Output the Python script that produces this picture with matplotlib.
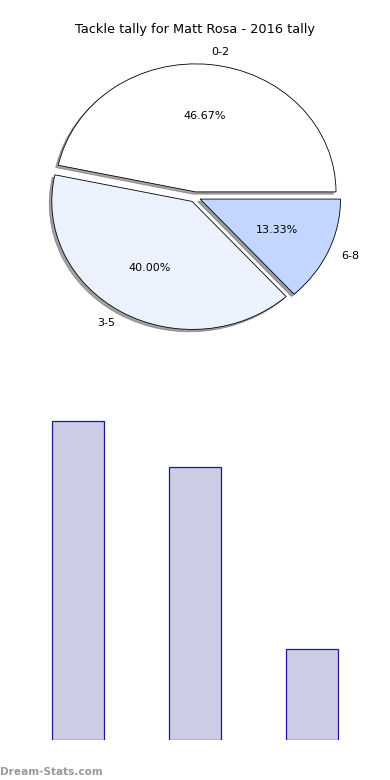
import matplotlib
matplotlib.use("Agg")
import matplotlib.pyplot as plt

# tackle tally buckets and counts
labels = ["0-2", "3-5", "6-8"]
counts = [7, 6, 2]
slice_colors = ["#ffffff", "#ebf2fe", "#c3d6ff"]
title = "Tackle tally for Matt Rosa - 2016 tally"

fig = plt.figure(figsize=(3.9, 7.8), dpi=100)

# pie on top, stretched like the original (not circular)
ax_pie = fig.add_axes([0.05, 0.5423, 0.90, 0.4103])
wedges, texts, autotexts = ax_pie.pie(
    counts, labels=labels, colors=slice_colors, autopct="%.2f%%",
    explode=[0.04] * len(counts), shadow={"ox": -0.013, "oy": -0.013},
    startangle=0,
    wedgeprops=dict(edgecolor="black", linewidth=0.6),
    textprops=dict(fontsize=8),
)
ax_pie.set_aspect("auto")
ax_pie.set_title(title, fontsize=9.3, pad=3)

# bar chart below, no frame or ticks
ax_bar = fig.add_axes([0.05, 0.0513, 0.90, 0.4295])
x = list(range(len(counts)))
ax_bar.bar(x, counts, width=0.45, color="navy", alpha=0.2)
ax_bar.bar(x, counts, width=0.45, fill=False, edgecolor="#1a1a99", linewidth=0.9)
ax_bar.set_xlim(-0.5, len(counts) - 0.5)
ax_bar.axis("off")

fig.text(0.0, 0.004, "Dream-Stats.com", fontsize=7.6, color="#999999",
         fontweight="bold", ha="left", va="bottom")

fig.savefig("out.png", dpi=100)
